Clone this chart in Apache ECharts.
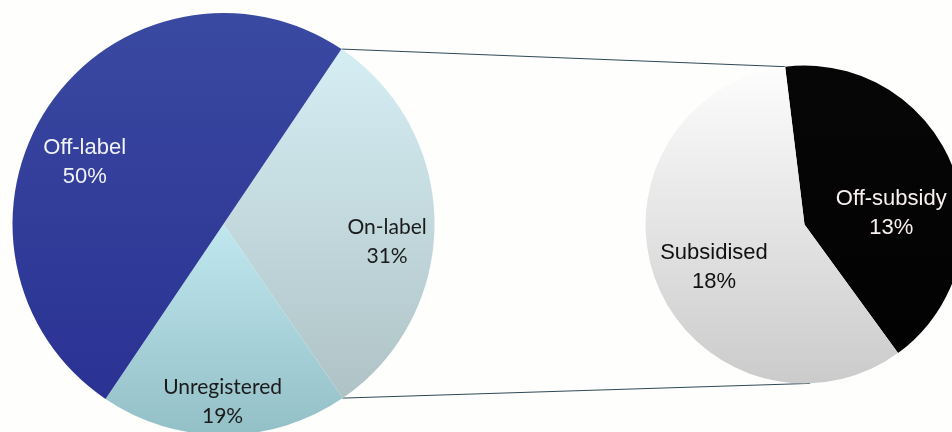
<!DOCTYPE html>
<html>
<head>
<meta charset="utf-8">
<style>
  html, body { margin: 0; padding: 0; background: #fefefd; }
  #chart { width: 952px; height: 432px; }
</style>
<script src="https://cdn.jsdelivr.net/npm/echarts@6/dist/echarts.min.js"></script>
</head>
<body>
<div id="chart"></div>
<script>
// ---- data ----
var mainCategories = ['On-label', 'Unregistered', 'Off-label'];
var mainValues = [31, 19, 50];
var subCategories = ['Off-subsidy', 'Subsidised'];
var subValues = [13, 18];

// ---- layout ----
var L = { cx: 223.5, cy: 224, r: 211, start: 56 };
var R = { cx: 804.5, cy: 224.5, r: 159, start: 97, bottomAngle: -88 };
// label placement as [angle deg, fraction of radius]
var mainLabelPos = [[-6.3, 0.78], [-90.3, 0.84], [156, 0.72]];
var subLabelPos = [[7.2, 0.55], [-154.7, 0.63]];

var mainColors = [
  ['#d5eef4', '#afc3c6'],
  ['#c0e7ef', '#93bfc6'],
  ['#3a49a1', '#2a3293']
];
var subColors = [
  ['#060606', '#020202'],
  ['#fdfdfd', '#cbcbcb']
];
var mainLabelStyle = [
  { color: '#1a1a1a', fontFamily: 'Lato', fontSize: 21 },
  { color: '#1a1a1a', fontFamily: 'Lato', fontSize: 21 },
  { color: '#f2f2f8', fontFamily: 'Liberation Sans', fontSize: 22 }
];
var subLabelStyle = [
  { color: '#f8f0ee', fontFamily: 'Liberation Sans', fontSize: 22 },
  { color: '#111111', fontFamily: 'Liberation Sans', fontSize: 22 }
];

function grad(c) {
  return new echarts.graphic.LinearGradient(0, 0, 0, 1, [
    { offset: 0, color: c[0] }, { offset: 1, color: c[1] }
  ]);
}
function polar(p, angDeg, rad) {
  var a = angDeg * Math.PI / 180;
  return [p.cx + rad * Math.cos(a), p.cy - rad * Math.sin(a)];
}

var mainData = mainCategories.map(function (n, i) {
  return {
    name: n, value: mainValues[i],
    itemStyle: { color: grad(mainColors[i]) },
    label: mainLabelStyle[i]
  };
});
var subData = subCategories.map(function (n, i) {
  return {
    name: n, value: subValues[i],
    itemStyle: { color: grad(subColors[i]) },
    label: subLabelStyle[i]
  };
});

// connector endpoints derived from the slice that is broken out (first main slice)
var mainTotal = mainValues.reduce(function (a, b) { return a + b; }, 0);
var sweep = mainValues[0] / mainTotal * 360;
var pTopL = polar(L, L.start, L.r);
var pBotL = polar(L, L.start - sweep, L.r);
var pTopR = polar(R, R.start, R.r);
var pBotR = polar(R, R.bottomAngle, R.r);

var chart = echarts.init(document.getElementById('chart'), null, { renderer: 'canvas' });
chart.setOption({
  backgroundColor: '#fefefd',
  animation: false,
  graphic: [
    { type: 'line', z: 0, shape: { x1: pTopL[0], y1: pTopL[1], x2: pTopR[0], y2: pTopR[1] },
      style: { stroke: '#2f4a55', lineWidth: 1 } },
    { type: 'line', z: 0, shape: { x1: pBotL[0], y1: pBotL[1], x2: pBotR[0], y2: pBotR[1] },
      style: { stroke: '#2f4a55', lineWidth: 1 } }
  ],
  series: [
    {
      type: 'pie',
      center: [L.cx, L.cy],
      radius: [0, L.r],
      startAngle: L.start,
      clockwise: true,
      avoidLabelOverlap: false,
      data: mainData,
      label: {
        show: true, position: 'inside',
        formatter: '{b}\n{c}%', lineHeight: 29, align: 'center'
      },
      labelLine: { show: false },
      labelLayout: function (params) {
        var lp = mainLabelPos[params.dataIndex];
        var pt = polar(L, lp[0], lp[1] * L.r);
        return { x: pt[0], y: pt[1], align: 'center', verticalAlign: 'middle' };
      },
      itemStyle: { borderWidth: 0 },
      emphasis: { disabled: true }
    },
    {
      type: 'pie',
      center: [R.cx, R.cy],
      radius: [0, R.r],
      startAngle: R.start,
      clockwise: true,
      avoidLabelOverlap: false,
      data: subData,
      label: {
        show: true, position: 'inside',
        formatter: '{b}\n{c}%', lineHeight: 29, align: 'center'
      },
      labelLine: { show: false },
      labelLayout: function (params) {
        var lp = subLabelPos[params.dataIndex];
        var pt = polar(R, lp[0], lp[1] * R.r);
        return { x: pt[0], y: pt[1], align: 'center', verticalAlign: 'middle' };
      },
      itemStyle: { borderWidth: 0 },
      emphasis: { disabled: true }
    }
  ]
});
</script>
</body>
</html>
